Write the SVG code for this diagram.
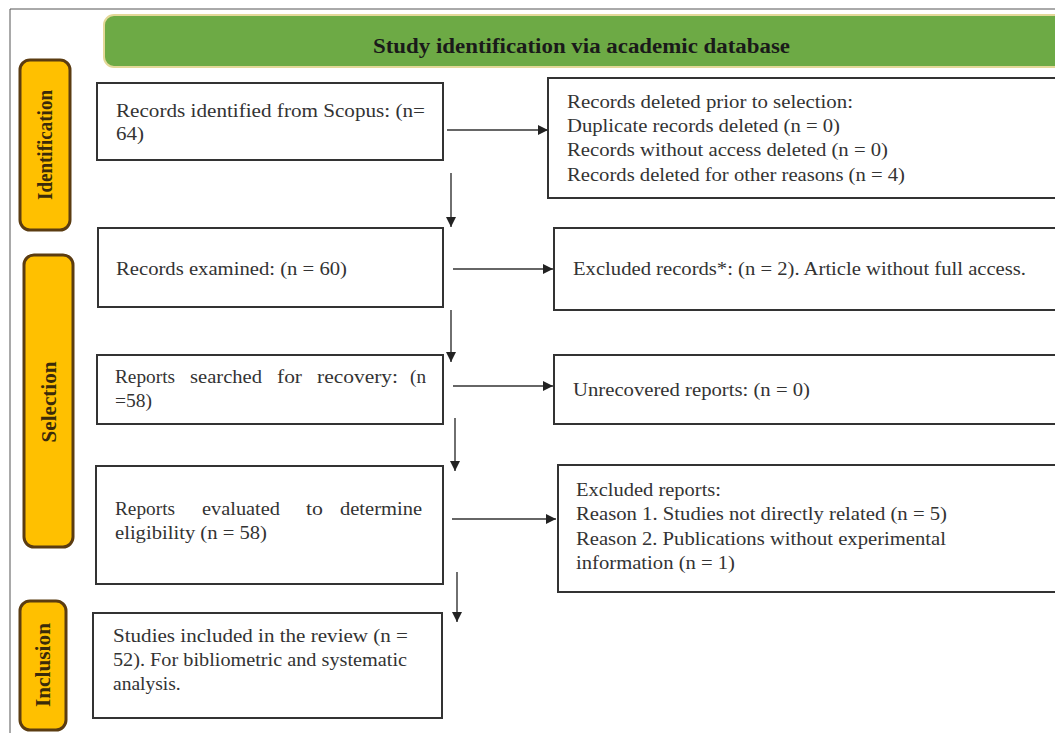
<svg xmlns="http://www.w3.org/2000/svg" width="1055" height="733" viewBox="0 0 1055 733">
<style>
.box{fill:#fff;stroke:#333;stroke-width:2}
.pill{fill:#FFC000;stroke:#5b3c11;stroke-width:3}
.t{font-family:"Liberation Serif","Times New Roman",serif;font-size:19.5px;fill:#333}
.pt{font-family:"Liberation Serif","Times New Roman",serif;font-size:20px;font-weight:bold;fill:#3a2a0a;text-anchor:middle}
.title{font-family:"Liberation Serif","Times New Roman",serif;font-size:20px;font-weight:bold;fill:#1a1a1a}
.c{stroke:#333;stroke-width:1.4;fill:none}
</style>
<defs>
<marker id="ah" viewBox="0 0 10 10" refX="10" refY="5" markerWidth="10" markerHeight="10" markerUnits="userSpaceOnUse" orient="auto">
<path d="M0,0 L10,5 L0,10 Z" fill="#222"/>
</marker>
</defs>
<rect width="1055" height="733" fill="#fff"/>
<g id="frame">
<path d="M10,733 L10,9 L1055,9" fill="none" stroke="#555" stroke-width="1"/>
</g>
<g id="banner">
<rect x="104" y="15" width="966" height="52" rx="10" fill="#6DAA45" stroke="#e3d898" stroke-width="2"/>
<text class="title" x="373" y="53" textLength="417" lengthAdjust="spacingAndGlyphs">Study identification via academic database</text>
</g>
<g id="phase-identification">
<rect class="pill" x="20" y="60" width="50" height="170" rx="10"/>
<text class="pt" transform="translate(52,145) rotate(-90)" textLength="110" lengthAdjust="spacingAndGlyphs">Identification</text>
</g>
<g id="phase-selection">
<rect class="pill" x="24" y="255" width="49" height="292" rx="10"/>
<text class="pt" transform="translate(56,402) rotate(-90)" textLength="81" lengthAdjust="spacingAndGlyphs">Selection</text>
</g>
<g id="phase-inclusion">
<rect class="pill" x="20" y="601" width="46" height="129" rx="10"/>
<text class="pt" transform="translate(50,665) rotate(-90)" textLength="84" lengthAdjust="spacingAndGlyphs">Inclusion</text>
</g>
<g id="n1">
<rect class="box" x="97" y="83" width="346" height="77"/>
<text class="t" x="116" y="117" textLength="309" lengthAdjust="spacingAndGlyphs">Records identified from Scopus: (n=</text>
<text class="t" x="116" y="140" textLength="28" lengthAdjust="spacingAndGlyphs">64)</text>
</g>
<g id="n2">
<rect class="box" x="548" y="78" width="520" height="120"/>
<text class="t" x="567" y="108" textLength="286" lengthAdjust="spacingAndGlyphs">Records deleted prior to selection:</text>
<text class="t" x="567" y="132" textLength="273" lengthAdjust="spacingAndGlyphs">Duplicate records deleted (n = 0)</text>
<text class="t" x="567" y="156" textLength="321" lengthAdjust="spacingAndGlyphs">Records without access deleted (n = 0)</text>
<text class="t" x="567" y="181" textLength="338" lengthAdjust="spacingAndGlyphs">Records deleted for other reasons (n = 4)</text>
</g>
<g id="n3">
<rect class="box" x="98" y="228" width="345" height="79"/>
<text class="t" x="116" y="275" textLength="231" lengthAdjust="spacingAndGlyphs">Records examined: (n = 60)</text>
</g>
<g id="n4">
<rect class="box" x="554" y="228" width="520" height="82"/>
<text class="t" x="573" y="275" textLength="453" lengthAdjust="spacingAndGlyphs">Excluded records*: (n = 2). Article without full access.</text>
</g>
<g id="n5">
<rect class="box" x="97" y="355" width="346" height="69"/>
<text class="t" x="115" y="383" textLength="60" lengthAdjust="spacingAndGlyphs">Reports</text>
<text class="t" x="190" y="383" textLength="72" lengthAdjust="spacingAndGlyphs">searched</text>
<text class="t" x="277" y="383" textLength="25" lengthAdjust="spacingAndGlyphs">for</text>
<text class="t" x="317" y="383" textLength="81" lengthAdjust="spacingAndGlyphs">recovery:</text>
<text class="t" x="410" y="383" textLength="16" lengthAdjust="spacingAndGlyphs">(n</text>
<text class="t" x="115" y="407" textLength="37" lengthAdjust="spacingAndGlyphs">=58)</text>
</g>
<g id="n6">
<rect class="box" x="554" y="355" width="520" height="69"/>
<text class="t" x="573" y="396" textLength="237" lengthAdjust="spacingAndGlyphs">Unrecovered reports: (n = 0)</text>
</g>
<g id="n7">
<rect class="box" x="96" y="466" width="347" height="118"/>
<text class="t" x="115" y="515" textLength="60" lengthAdjust="spacingAndGlyphs">Reports</text>
<text class="t" x="202" y="515" textLength="78" lengthAdjust="spacingAndGlyphs">evaluated</text>
<text class="t" x="306" y="515" textLength="17" lengthAdjust="spacingAndGlyphs">to</text>
<text class="t" x="340" y="515" textLength="82" lengthAdjust="spacingAndGlyphs">determine</text>
<text class="t" x="115" y="539" textLength="152" lengthAdjust="spacingAndGlyphs">eligibility (n = 58)</text>
</g>
<g id="n8">
<rect class="box" x="558" y="465" width="520" height="127"/>
<text class="t" x="576" y="496" textLength="145" lengthAdjust="spacingAndGlyphs">Excluded reports:</text>
<text class="t" x="576" y="520" textLength="371" lengthAdjust="spacingAndGlyphs">Reason 1. Studies not directly related (n = 5)</text>
<text class="t" x="576" y="545" textLength="370" lengthAdjust="spacingAndGlyphs">Reason 2. Publications without experimental</text>
<text class="t" x="576" y="569" textLength="159" lengthAdjust="spacingAndGlyphs">information (n = 1)</text>
</g>
<g id="n9">
<rect class="box" x="93" y="613" width="349" height="105"/>
<text class="t" x="113" y="642" textLength="295" lengthAdjust="spacingAndGlyphs">Studies included in the review (n =</text>
<text class="t" x="113" y="666" textLength="294" lengthAdjust="spacingAndGlyphs">52). For bibliometric and systematic</text>
<text class="t" x="113" y="690">analysis.</text>
</g>
<g id="connectors">
<line class="c" x1="447" y1="130" x2="548" y2="130" marker-end="url(#ah)"/>
<line class="c" x1="453" y1="269" x2="553" y2="269" marker-end="url(#ah)"/>
<line class="c" x1="453" y1="386" x2="553" y2="386" marker-end="url(#ah)"/>
<line class="c" x1="452" y1="519" x2="556" y2="519" marker-end="url(#ah)"/>
<line class="c" x1="451" y1="173" x2="451" y2="227" marker-end="url(#ah)"/>
<line class="c" x1="451" y1="310" x2="451" y2="362" marker-end="url(#ah)"/>
<line class="c" x1="455" y1="418" x2="455" y2="471" marker-end="url(#ah)"/>
<line class="c" x1="457" y1="572" x2="457" y2="622" marker-end="url(#ah)"/>
</g>
</svg>
